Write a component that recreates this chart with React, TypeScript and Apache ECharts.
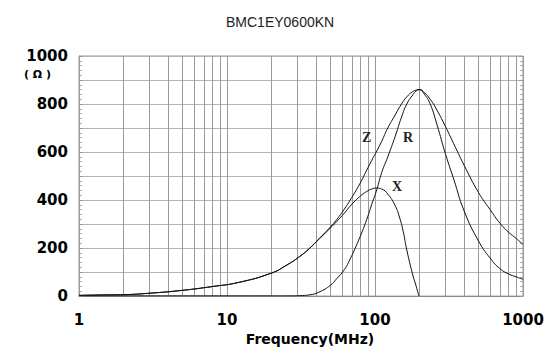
import React, { useEffect, useRef } from "react";
import * as echarts from "echarts";

const titleText = "BMC1EY0600KN";
const xTickLabels = ["1", "10", "100", "1000"];
const minorFreqLines = [2, 3, 4, 5, 6, 7, 8, 9, 20, 30, 40, 50, 60, 70, 80, 90, 200, 300, 400, 500, 600, 700, 800, 900];

const zFreq = [1, 1.5, 2, 3, 5, 8, 12, 20, 25, 31, 36, 42, 50, 55, 62, 68, 79, 88, 95, 103, 111, 122, 137, 151, 164, 180, 190, 200, 215, 236, 262, 300, 340, 400, 500, 600, 700, 800, 900, 1000];
const zVals = [3, 5, 6, 12, 24, 40, 57, 96, 127, 165, 198, 240, 288, 318, 362, 400, 468, 525, 565, 605, 645, 700, 755, 800, 830, 852, 858, 860, 848, 820, 775, 705, 635, 545, 432, 360, 303, 266, 240, 215];

const rFreq = [1, 2, 5, 10, 20, 25, 31, 36, 42, 50, 55, 62, 68, 79, 88, 95, 103, 111, 122, 137, 151, 164, 180, 190, 200, 215, 236, 262, 300, 340, 400, 500, 600, 700, 800, 900, 1000];
const rVals = [1, 1, 1, 1, 1, 1, 2, 5, 17, 45, 72, 110, 155, 245, 320, 382, 445, 515, 580, 666, 745, 800, 838, 855, 860, 842, 800, 715, 590, 488, 355, 230, 158, 114, 92, 80, 70];

const xFreq = [1, 1.5, 2, 3, 5, 8, 12, 20, 25, 31, 36, 42, 50, 55, 62, 68, 79, 88, 95, 103, 111, 122, 137, 147, 155, 164, 180, 190, 198];
const xVals = [3, 5, 6, 12, 24, 40, 57, 96, 127, 165, 198, 238, 284, 310, 345, 375, 415, 436, 446, 450, 446, 425, 376, 325, 270, 192, 88, 40, 0];

const curveLabels = [
  { name: "Z", freq: 88, value: 660 },
  { name: "R", freq: 167, value: 660 },
  { name: "X", freq: 141, value: 457 },
];

const pairs = (f: number[], v: number[]) => f.map((x, i) => [x, v[i]]);

const labelPoint = (n: string) => {
  const l = curveLabels.find((c) => c.name === n)!;
  return {
    symbol: "circle",
    symbolSize: 0,
    silent: true,
    label: {
      show: true,
      position: "inside",
      formatter: n,
      fontFamily: "Liberation Serif",
      fontWeight: "bold",
      fontSize: 14,
      color: "#222",
    },
    data: [{ coord: [l.freq, l.value] }],
  };
};

export default function App() {
  const ref = useRef<HTMLDivElement>(null);
  useEffect(() => {
    if (!ref.current) return;
    const chart = echarts.init(ref.current, null, { renderer: "svg" });
    const lineStyle = { color: "#111", width: 1 };
    const axisFont = { fontFamily: "DejaVu Sans", fontWeight: "bold", fontSize: 15, color: "#000" };
    chart.setOption({
      animation: false,
      backgroundColor: "#fff",
      title: {
        text: titleText,
        left: 221,
        top: 10,
        textStyle: { fontFamily: "Liberation Sans", fontWeight: "normal", fontSize: 14, color: "#222" },
      },
      graphic: [
        {
          type: "text",
          left: 24,
          top: 69,
          style: { text: "( Ω )", font: "bold 11px DejaVu Sans", fill: "#000" },
        },
      ],
      grid: { left: 79, right: 28, top: 56, bottom: 53.5, show: true, borderColor: "#999", borderWidth: 1 },
      xAxis: {
        type: "log",
        logBase: 10,
        min: 1,
        max: 1000,
        axisLine: { show: true, lineStyle: { color: "#888" } },
        axisTick: { show: false },
        axisLabel: {
          ...axisFont,
          margin: 16,
          formatter: (v: number) => {
            const s = String(Math.round(v));
            return xTickLabels.includes(s) ? s : "";
          },
        },
        splitLine: { show: true, lineStyle: { color: "#999", width: 1 } },
        name: "Frequency(MHz)",
        nameLocation: "middle",
        nameGap: 33,
        nameTextStyle: { fontFamily: "DejaVu Sans", fontWeight: "bold", fontSize: 14, color: "#000", padding: [0, 0, 0, 18] },
      },
      yAxis: [
        {
          type: "value",
          min: 0,
          max: 1000,
          interval: 100,
          axisLine: { show: true, lineStyle: { color: "#999" } },
          axisTick: { show: true, inside: true, length: 4, lineStyle: { color: "#999" } },
          minorTick: { show: true, splitNumber: 5, length: 3, lineStyle: { color: "#aaa" } },
          axisLabel: {
            ...axisFont,
            margin: 11,
            formatter: (v: number) => (v % 200 === 0 ? String(v) : ""),
          },
          splitLine: { show: true, lineStyle: { color: "#b4b4b4", width: 1 } },
        },
        {
          type: "value",
          position: "right",
          min: 0,
          max: 1000,
          interval: 100,
          axisLine: { show: false },
          axisTick: { show: true, inside: true, length: 4, lineStyle: { color: "#999" } },
          minorTick: { show: true, splitNumber: 5, length: 3, lineStyle: { color: "#aaa" } },
          axisLabel: { show: false },
          splitLine: { show: false },
        },
      ],
      series: [
        {
          name: "Z",
          type: "line",
          data: pairs(zFreq, zVals),
          showSymbol: false,
          smooth: 0.5,
          lineStyle,
          z: 5,
          markLine: {
            silent: true,
            symbol: ["none", "none"],
            label: { show: false },
            lineStyle: { color: "#999", width: 1, type: "solid" },
            data: minorFreqLines.map((f) => ({ xAxis: f })),
            z: 1,
          },
          markPoint: labelPoint("Z"),
        },
        {
          name: "R",
          type: "line",
          data: pairs(rFreq, rVals),
          showSymbol: false,
          smooth: 0.5,
          lineStyle,
          z: 5,
          markPoint: labelPoint("R"),
        },
        {
          name: "X",
          type: "line",
          data: pairs(xFreq, xVals),
          showSymbol: false,
          smooth: 0.5,
          lineStyle,
          z: 5,
          markPoint: labelPoint("X"),
        },
      ],
    });
    return () => chart.dispose();
  }, []);
  return (
    <div
      ref={ref}
      style={{ position: "fixed", left: 0, top: 0, width: 551, height: 351, background: "#fff" }}
    />
  );
}
